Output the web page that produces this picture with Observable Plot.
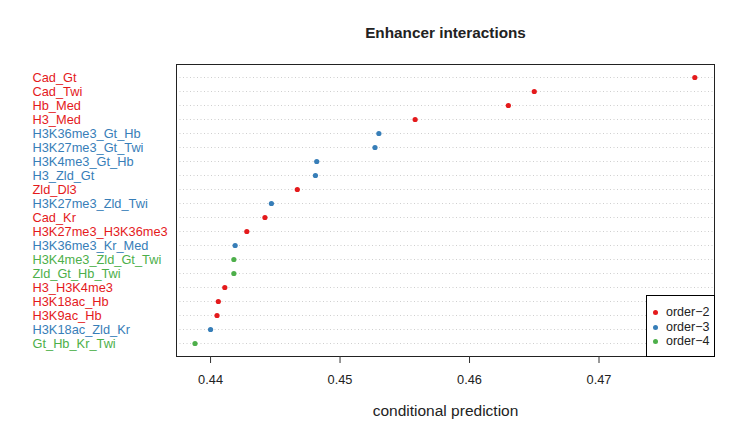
<!DOCTYPE html>
<html>
<head>
<meta charset="utf-8">
<script src="https://cdn.jsdelivr.net/npm/d3@7"></script>
<script src="https://cdn.jsdelivr.net/npm/@observablehq/plot@0.6"></script>
<style>
  html, body { margin: 0; padding: 0; background: #fff; }
  #wrap { position: relative; width: 747px; height: 436px; font-family: "Liberation Sans", Arial, sans-serif; }
  #legend { position: absolute; left: 646px; top: 295px; width: 67px; height: 60px; border: 1px solid #000; background: #fff; font-size: 12.5px; }
  .li { position: absolute; left: 0; height: 14px; line-height: 14px; white-space: nowrap; }
  .li span.d { position: absolute; left: 6px; top: 5px; width: 5px; height: 5px; border-radius: 50%; }
  .li span.t { position: absolute; left: 19px; top: 0; color: #222; }
</style>
</head>
<body>
<div id="wrap"></div>
<script>
const labels = ["Cad_Gt","Cad_Twi","Hb_Med","H3_Med","H3K36me3_Gt_Hb","H3K27me3_Gt_Twi","H3K4me3_Gt_Hb","H3_Zld_Gt","Zld_Dl3","H3K27me3_Zld_Twi","Cad_Kr","H3K27me3_H3K36me3","H3K36me3_Kr_Med","H3K4me3_Zld_Gt_Twi","Zld_Gt_Hb_Twi","H3_H3K4me3","H3K18ac_Hb","H3K9ac_Hb","H3K18ac_Zld_Kr","Gt_Hb_Kr_Twi"];
const values = [0.4774,0.4650,0.4630,0.4558,0.4530,0.4527,0.4482,0.4481,0.4467,0.4447,0.4442,0.4428,0.4419,0.4418,0.4418,0.4411,0.4406,0.4405,0.4400,0.4388];
const orders = ["order-2","order-2","order-2","order-2","order-3","order-3","order-3","order-3","order-2","order-3","order-2","order-2","order-3","order-4","order-4","order-2","order-2","order-2","order-3","order-4"];
const orderNames = ["order-2","order-3","order-4"];
const legendLabels = ["order\u22122","order\u22123","order\u22124"];
const colors = ["#E41A1C","#377EB8","#4DAF4A"];
const xTicks = [0.44,0.45,0.46,0.47];
const title = "Enhancer interactions";
const xLabel = "conditional prediction";

const data = labels.map((l, i) => ({label: l, value: values[i], order: orders[i]}));

const chart = Plot.plot({
  width: 747, height: 436,
  marginLeft: 176, marginRight: 33, marginTop: 64, marginBottom: 80,
  style: {fontFamily: "'Liberation Sans', Arial, sans-serif", fontSize: "12.8px", background: "white", color: "#222"},
  x: {domain: [0.43737, 0.47892]},
  y: {type: "point", domain: labels, padding: 0.465, axis: null},
  color: {domain: orderNames, range: colors},
  marks: [
    Plot.ruleY(labels, {y: d => d, stroke: "#cfcfcf", strokeDasharray: "1,2.5", strokeWidth: 1}),
    Plot.frame({stroke: "#222"}),
    Plot.dot(data, {x: "value", y: "label", fill: "order", r: 2.6}),
    Plot.text(data, {y: "label", text: "label", fill: "order", frameAnchor: "left", textAnchor: "start", lineAnchor: "middle", dx: -144, fontSize: 12.8}),
    Plot.axisX({ticks: xTicks, tickFormat: d3.format(".2f"), tickSize: 7, tickPadding: 11, label: null, fontSize: 12.8, stroke: "#333"}),
    Plot.text([xLabel], {text: d => d, frameAnchor: "bottom", lineAnchor: "middle", dy: 55, fontSize: 15.5}),
    Plot.text([title], {text: d => d, frameAnchor: "top", lineAnchor: "middle", dy: -31, fontSize: 15.3, fontWeight: "bold"})
  ]
});

const wrap = document.getElementById("wrap");
wrap.appendChild(chart);

const legend = document.createElement("div");
legend.id = "legend";
orderNames.forEach((o, i) => {
  const row = document.createElement("div");
  row.className = "li";
  row.style.top = (9 + i * 14.5) + "px";
  row.style.width = "100%";
  const dot = document.createElement("span");
  dot.className = "d";
  dot.style.background = colors[i];
  const t = document.createElement("span");
  t.className = "t";
  t.textContent = legendLabels[i];
  row.appendChild(dot); row.appendChild(t);
  legend.appendChild(row);
});
wrap.appendChild(legend);
</script>
</body>
</html>
